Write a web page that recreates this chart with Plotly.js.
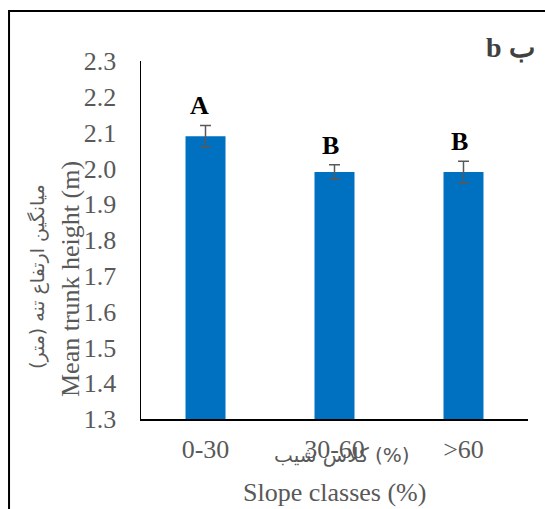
<!DOCTYPE html>
<html>
<head>
<meta charset="utf-8">
<script src="https://cdn.plot.ly/plotly-3.0.1.min.js"></script>
<style>html,body{margin:0;padding:0;background:#fff;}#chart{width:545px;height:509px;}</style>
</head>
<body>
<div id="chart"></div>
<script>
const categories = ['0-30', '30-60', '>60'];
const meanHeight = [2.09, 1.99, 1.99];
const errHeight = [0.03, 0.02, 0.03];
const letters = ['A', 'B', 'B'];
const yTicks = [1.3, 1.4, 1.5, 1.6, 1.7, 1.8, 1.9, 2.0, 2.1, 2.2, 2.3];

const serif = 'Liberation Serif';
const grey = '#595959';

const trace = {
  type: 'bar',
  x: categories,
  y: meanHeight,
  marker: {color: '#0070C0'},
  width: 0.31,
  error_y: {type: 'data', array: errHeight, visible: true, color: grey, thickness: 1.5, width: 5.5},
  hoverinfo: 'none'
};

const letterAnns = categories.map((c, i) => ({
  x: c, y: meanHeight[i] + errHeight[i], xref: 'x', yref: 'y',
  text: '<b>' + letters[i] + '</b>', showarrow: false,
  yanchor: 'bottom', yshift: 3, xshift: i === 0 ? -6 : -4,
  font: {family: serif, size: 26, color: '#000'}
}));

const layout = {
  width: 545, height: 509,
  margin: {l: 141, r: 17, t: 61, b: 90, pad: 0},
  paper_bgcolor: '#fff', plot_bgcolor: '#fff',
  showlegend: false,
  xaxis: {
    type: 'category', range: [-0.5, 2.5],
    showline: true, linecolor: '#000', linewidth: 1.5,
    ticks: '', showgrid: false, zeroline: false,
    tickfont: {family: serif, size: 26, color: grey},
    ticklabelstandoff: 6
  },
  yaxis: {
    range: [1.3, 2.3], tickvals: yTicks, ticktext: yTicks.map(v => v.toFixed(1)),
    showline: true, linecolor: '#000', linewidth: 1.5,
    ticks: '', showgrid: false, zeroline: false,
    tickfont: {family: serif, size: 26, color: grey},
    ticklabelstandoff: 18
  },
  shapes: [{
    type: 'rect', xref: 'paper', yref: 'paper',
    x0: -0.341, x1: 1.3, y0: -0.5, y1: 1.1397,
    line: {color: '#000', width: 2}, fillcolor: 'rgba(0,0,0,0)', layer: 'below'
  }],
  annotations: letterAnns.concat([
    {xref: 'paper', yref: 'paper', x: (510 - 141) / 387, y: (419 - 48) / 358,
     text: '<b>b ب</b>', showarrow: false, xanchor: 'center', yanchor: 'middle',
     font: {family: serif, size: 28, color: '#404040'}},
    {xref: 'paper', yref: 'paper', x: (70 - 141) / 387, y: (419 - 279) / 358,
     text: 'Mean trunk height (m)', textangle: -90, showarrow: false,
     xanchor: 'center', yanchor: 'middle',
     font: {family: serif, size: 26, color: grey}},
    {xref: 'paper', yref: 'paper', x: (37 - 141) / 387, y: (419 - 277) / 358,
     text: 'میانگین ارتفاع تنه (متر)', textangle: -90, showarrow: false,
     xanchor: 'center', yanchor: 'middle',
     font: {family: 'DejaVu Sans', size: 19, color: grey}},
    {xref: 'paper', yref: 'paper', x: (342 - 141) / 387, y: (419 - 455) / 358,
     text: 'کلاس شیب (%)', showarrow: false,
     xanchor: 'center', yanchor: 'middle',
     font: {family: 'DejaVu Sans', size: 20, color: grey}},
    {xref: 'paper', yref: 'paper', x: (334 - 141) / 387, y: (419 - 492) / 358,
     text: 'Slope classes (%)', showarrow: false,
     xanchor: 'center', yanchor: 'middle',
     font: {family: serif, size: 26, color: grey}}
  ])
};

Plotly.newPlot('chart', [trace], layout, {displayModeBar: false, staticPlot: true});
</script>
</body>
</html>
